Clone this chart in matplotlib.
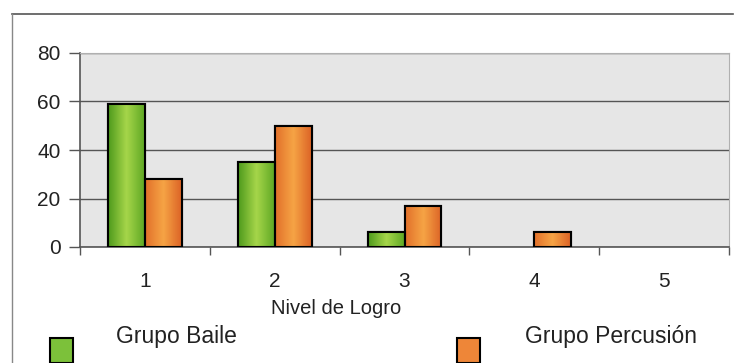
import matplotlib.pyplot as plt
from matplotlib.patches import Rectangle
from matplotlib.lines import Line2D
from matplotlib.colors import LinearSegmentedColormap
import numpy as np

plt.rcParams['font.family'] = ['Liberation Sans', 'DejaVu Sans']

niveles = ['1', '2', '3', '4', '5']
grupo_baile = [59, 35, 6, 0, 0]
grupo_percusion = [28, 50, 17, 6, 0]
series_names = ['Grupo Baile', 'Grupo Percusión']

green = '#7cc13a'
orange = '#ee8638'
green_cmap = LinearSegmentedColormap.from_list('g', ['#4e9a1c', '#a6d64a', '#5fa824'])
orange_cmap = LinearSegmentedColormap.from_list('o', ['#e2702a', '#f6a445', '#dc6326'])

fig = plt.figure(figsize=(7.36, 3.63), dpi=100)
ax = fig.add_axes([80 / 736, 1 - 247 / 363, 649 / 736, 194 / 363])
ax.set_facecolor('#e6e6e6')

x = np.arange(1, len(niveles) + 1)
w = 0.285
grad = np.linspace(0, 1, 64).reshape(1, -1)
for vals, off, col, cmap in [(grupo_baile, -w / 2, green, green_cmap),
                             (grupo_percusion, w / 2, orange, orange_cmap)]:
    lws = [1.5 if v > 0 else 0 for v in vals]
    bars = ax.bar(x + off, vals, w, color=col, edgecolor='black', linewidth=lws, zorder=3)
    for b, v in zip(bars, vals):
        if v <= 0:
            continue
        x0, y0 = b.get_x(), b.get_y()
        im = ax.imshow(grad, cmap=cmap, aspect='auto', zorder=3.5,
                       extent=[x0, x0 + b.get_width(), y0, y0 + b.get_height()])
        im.set_clip_path(b)
        ax.add_patch(Rectangle((x0, y0), b.get_width(), b.get_height(), fill=False,
                               edgecolor='black', linewidth=1.5, zorder=4))

ax.set_xlim(0.5, 5.5)
ax.set_ylim(0, 80)
ax.set_yticks([0, 20, 40, 60, 80])
ax.set_xticks(x)
ax.set_xticklabels(niveles)
ax.set_xticks(np.arange(0.5, 6, 1), minor=True)
ax.tick_params(axis='x', which='major', length=0, pad=18, labelsize=15, colors='#222222')
ax.tick_params(axis='x', which='minor', length=6, width=1, color='#555555')
ax.tick_params(axis='y', length=8, width=1, pad=6, labelsize=15, color='#555555', labelcolor='#222222')

ax.grid(axis='y', color='#555555', linewidth=1, zorder=1)
ax.set_axisbelow(True)
for s in ['top', 'right']:
    ax.spines[s].set_color('#b0b0b0')
for s in ['left', 'bottom']:
    ax.spines[s].set_color('#555555')
    ax.spines[s].set_linewidth(1.2)

ax.set_xlabel('Nivel de Logro', fontsize=14.5, color='#222222', va='center')
ax.xaxis.set_label_coords((336 - 80) / 649, (247 - 308) / 194)

# legend below the axis
fig.add_artist(Rectangle((50 / 736, 0), 23 / 736, 25 / 363, facecolor=green,
                         edgecolor='black', linewidth=1.5, transform=fig.transFigure))
fig.add_artist(Rectangle((457 / 736, 0), 23 / 736, 25 / 363, facecolor=orange,
                         edgecolor='black', linewidth=1.5, transform=fig.transFigure))
fig.text(116 / 736, 1 - 337 / 363, series_names[0], fontsize=16.5, va='center', color='#222222')
fig.text(525 / 736, 1 - 337 / 363, series_names[1], fontsize=16.5, va='center', color='#222222')

# outer chart frame
fig.add_artist(Line2D([12 / 736, 733 / 736], [1 - 14 / 363, 1 - 14 / 363], color='#555555',
                      linewidth=1.2, transform=fig.transFigure))
fig.add_artist(Line2D([12 / 736, 12 / 736], [1 - 14 / 363, 0], color='#888888',
                      linewidth=1, transform=fig.transFigure))

fig.savefig('out.png', dpi=100)
